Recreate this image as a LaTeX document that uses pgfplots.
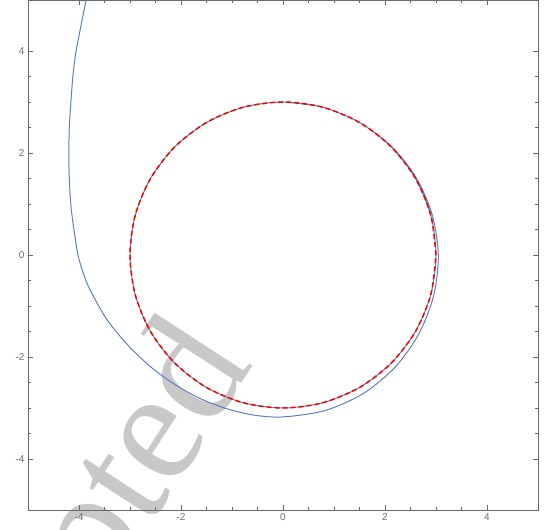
\documentclass[border=0pt]{standalone}
\usepackage{pgfplots}
\pgfplotsset{compat=1.18}
\usepackage{fontspec}
\setmainfont{Liberation Sans}
\newfontfamily\wmfont{Liberation Serif}
\definecolor{mblue}{rgb}{0.368417,0.506779,0.709798}
\definecolor{wm}{RGB}{200,200,200}
\definecolor{fr}{RGB}{105,105,105}
\definecolor{tl}{RGB}{110,110,110}
\begin{document}
\begin{tikzpicture}
\node[overlay, rotate=57, anchor=base, text=wm, inner sep=0pt,
  font=\wmfont\fontsize{160}{160}\selectfont] at (62pt,-108pt) {Accepted};
\begin{axis}[
  width=510pt, height=510pt, scale only axis,
  xmin=-5, xmax=5, ymin=-5, ymax=5,
  xtick={-4,-2,0,2,4}, ytick={-4,-2,0,2,4},
  minor tick num=3,
  tick align=inside,
  major tick length=5pt, minor tick length=3pt,
  axis line style={fr, line width=0.8pt},
  every tick/.style={fr, line width=0.7pt},
  tick label style={tl, font=\fontsize{10}{12}\selectfont},
  /pgf/number format/assume math mode=true,
]
\addplot[mblue, line width=1pt, smooth] coordinates {
(-3.82,5.2) (-3.86,5.0) (-3.96,4.5) (-4.06,3.98) (-4.12,3.5) (-4.16,2.98)
(-4.19,2.5) (-4.20,1.98) (-4.19,1.5) (-4.16,0.98) (-4.10,0.5) (-4.02,0)
(-3.92,-0.343) (-3.791,-0.668) (-3.458,-1.259) (-3.048,-1.76) (-2.604,-2.186)
(-2.128,-2.535) (-1.625,-2.815) (-1.098,-3.016) (-0.554,-3.142) (0,-3.175)
(0.818,-3.052) (1.57,-2.719)
(2.199,-2.199) (2.667,-1.54) (2.956,-0.792) (3.045,0) (2.927,0.784)
(2.615,1.51) (2.128,2.128) (1.5,2.598)
(0.776,2.898) (0,3) (-0.776,2.898) (-1.5,2.598) (-2.121,2.121) (-2.598,1.5)
(-2.898,0.776) (-3,0) (-2.898,-0.776) (-2.598,-1.5) (-2.121,-2.121) (-1.5,-2.598)
(-0.776,-2.898) (0,-3) (0.776,-2.898) (1.5,-2.598) (2.121,-2.121) (2.598,-1.5)
(2.898,-0.776) (3,0) (2.898,0.776) (2.598,1.5) (2.121,2.121) (1.5,2.598)
(0.776,2.898) (0,3)
};
\addplot[red, line width=1.5pt, smooth, dash pattern=on 5pt off 3pt] coordinates {
(3,0) (2.898,0.776) (2.598,1.5) (2.121,2.121) (1.5,2.598) (0.776,2.898) (0,3)
(-0.776,2.898) (-1.5,2.598) (-2.121,2.121) (-2.598,1.5) (-2.898,0.776) (-3,0)
(-2.898,-0.776) (-2.598,-1.5) (-2.121,-2.121) (-1.5,-2.598) (-0.776,-2.898) (0,-3)
(0.776,-2.898) (1.5,-2.598) (2.121,-2.121) (2.598,-1.5) (2.898,-0.776) (3,0)
};
\end{axis}
\pgfresetboundingbox
\path[use as bounding box] ([shift={(-28pt,-20pt)}]current axis.south west) rectangle ([shift={(9pt,0pt)}]current axis.north east);
\end{tikzpicture}
\end{document}
